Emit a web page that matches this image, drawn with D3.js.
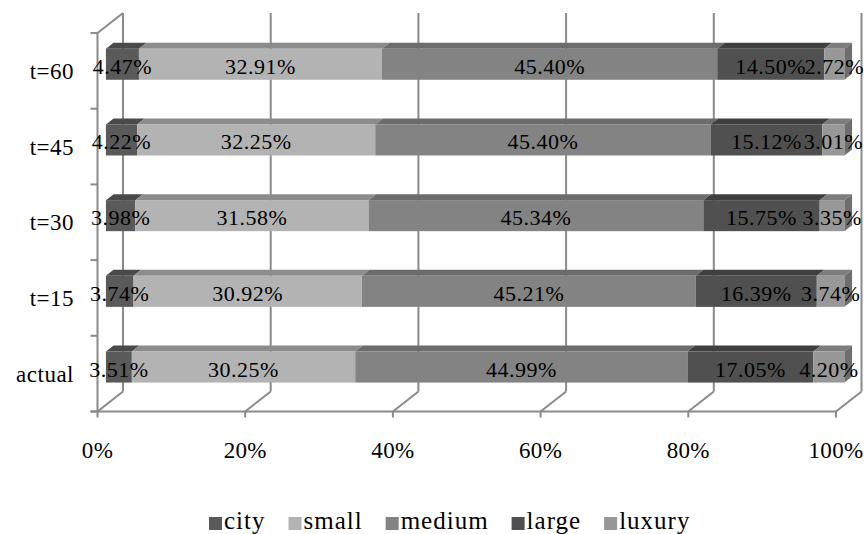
<!DOCTYPE html>
<html>
<head>
<meta charset="utf-8">
<script src="https://cdn.jsdelivr.net/npm/d3@7/dist/d3.min.js"></script>
<style>
  html, body { margin: 0; padding: 0; background: #fff; }
  svg { display: block; }
  text { font-family: "Liberation Serif", "DejaVu Serif", serif; fill: #000; }
</style>
</head>
<body>
<svg id="chart" width="864" height="534"></svg>
<script>
// Share of each segment per scenario (percent), listed bottom to top
const categories = ["actual", "t=15", "t=30", "t=45", "t=60"];
const seriesNames = ["city", "small", "medium", "large", "luxury"];
const city   = [3.51, 3.74, 3.98, 4.22, 4.47];
const small  = [30.25, 30.92, 31.58, 32.25, 32.91];
const medium = [44.99, 45.21, 45.34, 45.40, 45.40];
const large  = [17.05, 16.39, 15.75, 15.12, 14.50];
const luxury = [4.20, 3.74, 3.35, 3.01, 2.72];
const xTicks = [0, 20, 40, 60, 80, 100];

const seriesValues = [city, small, medium, large, luxury];

// Shades per series: front face, top face, end face
const shades = {
  city:   { front: "#5a5a5a", top: "#4a4a4a", side: "#404040" },
  small:  { front: "#b3b3b3", top: "#8c8c8c", side: "#7f7f7f" },
  medium: { front: "#838383", top: "#6c6c6c", side: "#5f5f5f" },
  large:  { front: "#505050", top: "#3f3f3f", side: "#363636" },
  luxury: { front: "#989898", top: "#7c7c7c", side: "#6e6e6e" }
};

const svg = d3.select("#chart");

// Front plane of the plot box and the oblique depth vector of the 3D box
const frontLeft = 97.5, frontRight = 836, frontTop = 33, frontBottom = 411.5;
const depth = { dx: 25.5, dy: -20 };
const barFront = 0.33, barDepth = 0.3;
const gridColor = "#8a8a8a";

const x = d3.scaleLinear().domain([0, 100]).range([frontLeft, frontRight]);
const y = d3.scaleBand()
  .domain(categories.slice().reverse())
  .range([frontTop, frontBottom])
  .paddingInner(0.59)
  .paddingOuter(0.295);

const stackInput = categories.map((c, i) => {
  const row = { category: c };
  seriesNames.forEach((s, k) => { row[s] = seriesValues[k][i]; });
  return row;
});
const stacked = d3.stack().keys(seriesNames)(stackInput);

// ---- Walls and floor gridlines ----
const walls = svg.append("g")
  .attr("fill", "none")
  .attr("stroke", gridColor)
  .attr("stroke-width", 2);

// vertical gridlines on the back wall
walls.selectAll("line.grid")
  .data(xTicks)
  .join("line")
  .attr("class", "grid")
  .attr("x1", d => x(d) + depth.dx)
  .attr("x2", d => x(d) + depth.dx)
  .attr("y1", frontTop + depth.dy)
  .attr("y2", frontBottom + depth.dy);

// floor gridlines running from the front axis to the back wall
walls.selectAll("line.floor")
  .data(xTicks)
  .join("line")
  .attr("class", "floor")
  .attr("x1", d => x(d))
  .attr("x2", d => x(d) + depth.dx)
  .attr("y1", frontBottom)
  .attr("y2", frontBottom + depth.dy);

// left side wall: front edge and top edge
walls.append("line")
  .attr("x1", frontLeft).attr("x2", frontLeft)
  .attr("y1", frontTop).attr("y2", frontBottom);
walls.append("line")
  .attr("x1", frontLeft).attr("x2", frontLeft + depth.dx)
  .attr("y1", frontTop).attr("y2", frontTop + depth.dy);

// front value axis with ticks
walls.append("line")
  .attr("x1", frontLeft - 7).attr("x2", frontRight)
  .attr("y1", frontBottom).attr("y2", frontBottom);
walls.selectAll("line.xtick")
  .data(xTicks)
  .join("line")
  .attr("class", "xtick")
  .attr("x1", d => x(d)).attr("x2", d => x(d))
  .attr("y1", frontBottom).attr("y2", frontBottom + 6);

// category tick marks at band boundaries
const bounds = categories.slice().reverse().map(c => y(c) - y.step() * y.paddingOuter());
bounds.push(frontBottom);
walls.selectAll("line.ytick")
  .data(bounds)
  .join("line")
  .attr("class", "ytick")
  .attr("x1", frontLeft - 7).attr("x2", frontLeft)
  .attr("y1", d => d).attr("y2", d => d);

// ---- Bars ----
const ox = depth.dx * barFront, oy = depth.dy * barFront;
const bx = depth.dx * barDepth, by = depth.dy * barDepth;

const barsG = svg.append("g");
stacked.forEach((layer, k) => {
  const key = layer.key;
  const g = barsG.append("g").attr("class", "series-" + key);
  layer.forEach((seg, i) => {
    const c = categories[i];
    const x0 = x(seg[0]) + ox, x1 = x(seg[1]) + ox;
    const yt = y(c) + oy, yb = y(c) + y.bandwidth() + oy;
    // top face
    g.append("polygon")
      .attr("points", [[x0, yt], [x1, yt], [x1 + bx, yt + by], [x0 + bx, yt + by]].join(" "))
      .attr("fill", shades[key].top);
    // front face
    g.append("rect")
      .attr("x", x0).attr("y", yt)
      .attr("width", x1 - x0).attr("height", yb - yt)
      .attr("fill", shades[key].front);
    // end face on the last segment
    if (k === seriesNames.length - 1) {
      g.append("polygon")
        .attr("points", [[x1, yt], [x1 + bx, yt + by], [x1 + bx, yb + by], [x1, yb]].join(" "))
        .attr("fill", shades[key].side);
    }
  });
});

// ---- Data labels ----
const labelsG = svg.append("g")
  .attr("font-size", 22)
  .attr("text-anchor", "middle")
  .attr("letter-spacing", 0.5);
stacked.forEach(layer => {
  layer.forEach((seg, i) => {
    const c = categories[i];
    const v = seg[1] - seg[0];
    labelsG.append("text")
      .attr("x", (x(seg[0]) + x(seg[1])) / 2 + ox)
      .attr("y", y(c) + y.bandwidth() / 2 + oy + 9.5)
      .text(v.toFixed(2) + "%");
  });
});

// ---- Axis labels ----
svg.append("g")
  .attr("font-size", 23)
  .attr("text-anchor", "end")
  .attr("letter-spacing", 0.5)
  .selectAll("text")
  .data(categories)
  .join("text")
  .attr("x", 74)
  .attr("y", d => y(d) + y.bandwidth() / 2 + 8)
  .text(d => d);

svg.append("g")
  .attr("font-size", 23)
  .attr("text-anchor", "middle")
  .attr("letter-spacing", 0.3)
  .selectAll("text")
  .data(xTicks)
  .join("text")
  .attr("x", d => x(d))
  .attr("y", 458)
  .text(d => d + "%");

// ---- Legend ----
const legend = svg.append("g")
  .attr("font-size", 25)
  .attr("letter-spacing", 1);
let lx = 209;
seriesNames.forEach(name => {
  legend.append("rect")
    .attr("x", lx).attr("y", 517)
    .attr("width", 13).attr("height", 13)
    .attr("fill", shades[name].front);
  const t = legend.append("text")
    .attr("x", lx + 15).attr("y", 529)
    .text(name);
  lx += 15 + t.node().getComputedTextLength() + 23;
});
</script>
</body>
</html>
